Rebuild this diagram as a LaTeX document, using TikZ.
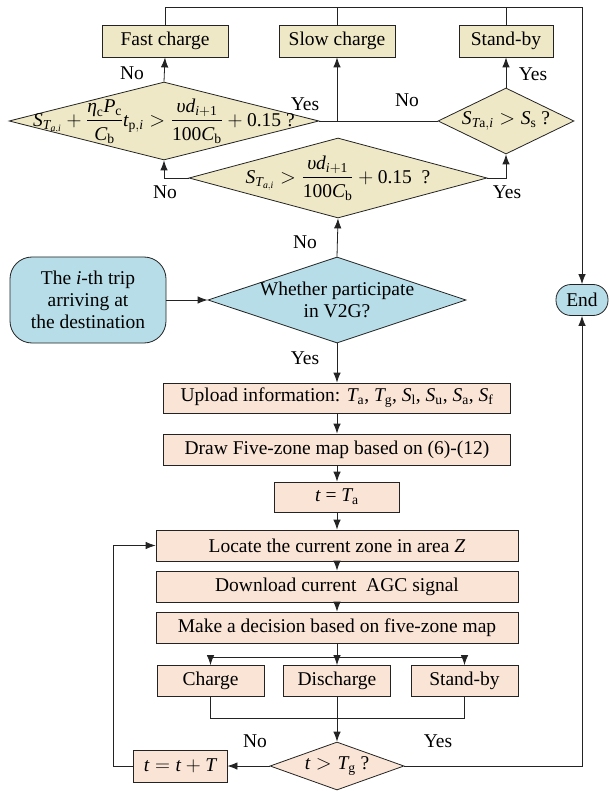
\documentclass[tikz,border=0pt]{standalone}
\usepackage{amsmath}
\usepackage{fontspec}
\setmainfont{Liberation Serif}
\usetikzlibrary{shapes.geometric,arrows.meta}
\definecolor{mytan}{RGB}{238,232,198}
\definecolor{mypeach}{RGB}{249,228,214}
\definecolor{mysky}{RGB}{183,222,232}
\definecolor{myline}{RGB}{35,35,35}
\newcommand{\iv}[1]{\text{\itshape #1}}
\newcommand{\rv}[1]{\text{\upshape #1}}
\begin{document}
\begin{tikzpicture}[x=1pt,y=-1pt,
  font=\fontsize{19.5}{22}\selectfont,
  box/.style={draw=myline,line width=0.8pt,rectangle,minimum height=31pt,align=center,inner sep=0pt},
  tbox/.style={box,fill=mytan},
  pbox/.style={box,fill=mypeach},
  dia/.style={draw=myline,line width=0.8pt,diamond,inner sep=0pt,aspect=1},
  arr/.style={draw=myline,line width=0.8pt,-{Latex[length=10pt,width=7.5pt]}},
  ln/.style={draw=myline,line width=0.8pt},
  lab/.style={inner sep=0pt}]
\useasboundingbox (0,0) rectangle (610,791);

% top row
\node[tbox,minimum width=126pt,minimum height=32pt] (FC) at (165,41) {Fast charge};
\node[tbox,minimum width=116pt,minimum height=32pt] (SC) at (337,41) {Slow charge};
\node[tbox,minimum width=94pt,minimum height=32pt] (SB1) at (506,41) {Stand-by};

% diamonds
\node[dia,fill=mytan,minimum width=310pt,minimum height=78pt] (D1) at (164,121) {};
\node at (D1) {$\iv{S}_{\iv{T}_{\iv{a},\iv{i}}}+\dfrac{\iv{η}_{\rv{c}}\iv{P}_{\rv{c}}}{\iv{C}_{\rv{b}}}\iv{t}_{\rv{p},\iv{i}}>\dfrac{\iv{υ}\iv{d}_{\iv{i}+\rv{1}}}{\rv{100}\iv{C}_{\rv{b}}}+\rv{0.15}$ ?};
\node[dia,fill=mytan,minimum width=136pt,minimum height=66pt] (D3) at (506,121) {};
\node at (D3) {$\iv{S}_{\iv{T}\rv{a},\iv{i}}>\iv{S}_{\rv{s}}$ ?};
\node[dia,fill=mytan,minimum width=298pt,minimum height=80pt] (D2) at (338,178) {};
\node at (D2) {$\iv{S}_{\iv{T}_{\iv{a},\iv{i}}}>\dfrac{\iv{υ}\iv{d}_{\iv{i}+\rv{1}}}{\rv{100}\iv{C}_{\rv{b}}}+\rv{0.15}$ \ ?};

% middle row
\node[box,fill=mysky,rounded corners=22pt,minimum width=156pt,minimum height=86pt] (ST) at (88,300) {The \textit{i}-th trip\\arriving at\\the destination};
\node[dia,fill=mysky,minimum width=258pt,minimum height=86pt] (W) at (337,300) {};
\node[align=center] at (W) {Whether participate\\in V2G?};
\node[box,fill=mysky,rounded corners=15pt,minimum width=52pt,minimum height=31pt] (END) at (582,300) {End};

% process boxes
\node[pbox,minimum width=347pt,minimum height=30pt] (UP) at (337,398) {Upload information: $\iv{T}_{\rv{a}}$, $\iv{T}_{\rv{g}}$, $\iv{S}_{\rv{l}}$, $\iv{S}_{\rv{u}}$, $\iv{S}_{\rv{a}}$, $\iv{S}_{\rv{f}}$};
\node[pbox,minimum width=347pt] (DR) at (337,449.5) {Draw Five-zone map based on (6)-(12)};
\node[pbox,minimum width=125pt,minimum height=30pt] (TA) at (337,497) {$\iv{t}$ = $\iv{T}_{\rv{a}}$};
\node[pbox,minimum width=362pt] (LO) at (337,545.5) {Locate the current zone in area \textit{Z}};
\node[pbox,minimum width=362pt] (DL) at (337,586.5) {Download current\ \ AGC signal};
\node[pbox,minimum width=362pt] (MK) at (337,627.5) {Make a decision based on five-zone map};
\node[pbox,minimum width=107pt] (CH) at (210.5,681) {Charge};
\node[pbox,minimum width=107pt] (DC) at (337,681) {Discharge};
\node[pbox,minimum width=107pt] (SB2) at (464.5,681) {Stand-by};
\node[dia,fill=mypeach,minimum width=134pt,minimum height=48pt] (TG) at (337,766) {};
\node at (TG) {$\iv{t}>\iv{T}_{\rv{g}}$ ?};
\node[pbox,minimum width=94pt,minimum height=32pt] (TT) at (180,766) {$\iv{t}=\iv{t}+\iv{T}$};

% coordinates
\coordinate (TR) at (582,7);
\coordinate (BR) at (337,657);
\coordinate (MG) at (337,718);
\coordinate (LP) at (113,766);

% connectors
\draw[arr] (FC.north) |- (TR) -- (END.north);
\draw[ln] (SC.north) -- (SC.north |- TR);
\draw[ln] (SB1.north) -- (SB1.north |- TR);
\draw[arr] (D1.north) -- (FC.south);
\draw[ln] (D1.east) -- (D3.west);
\draw[arr] (SC.south |- D1.east) -- (SC.south);
\draw[arr] (D3.north) -- (SB1.south);
\draw[arr] (D2.west) -| (D1.south);
\draw[arr] (D2.east) -| (D3.south);
\draw[arr] (W.north) -- (D2.south);
\draw[arr] (ST.east) -- (W.west);
\draw[arr] (W.south) -- (UP.north);
\draw[arr] (UP) -- (DR);
\draw[arr] (DR) -- (TA);
\draw[arr] (TA) -- (LO);
\draw[arr] (LO) -- (DL);
\draw[arr] (DL) -- (MK);
\draw[arr] (MK) -- (DC);
\draw[arr] (BR) -| (CH.north);
\draw[arr] (BR) -| (SB2.north);
\draw[ln] (CH.south) |- (MG);
\draw[ln] (SB2.south) |- (MG);
\draw[arr] (DC) -- (TG);
\draw[arr] (TG.west) -- (TT.east);
\draw[arr] (TT.west) -- (LP) |- (LO.west);
\draw[arr] (TG.east) -| (END.south);

% labels
\node[lab] at (132,73) {No};
\node[lab] at (305,104) {Yes};
\node[lab] at (407,100) {No};
\node[lab] at (533,74) {Yes};
\node[lab] at (165,192) {No};
\node[lab] at (507,192) {Yes};
\node[lab] at (305,242) {No};
\node[lab] at (305,358) {Yes};
\node[lab] at (255,741) {No};
\node[lab] at (438,741) {Yes};
\end{tikzpicture}
\end{document}
